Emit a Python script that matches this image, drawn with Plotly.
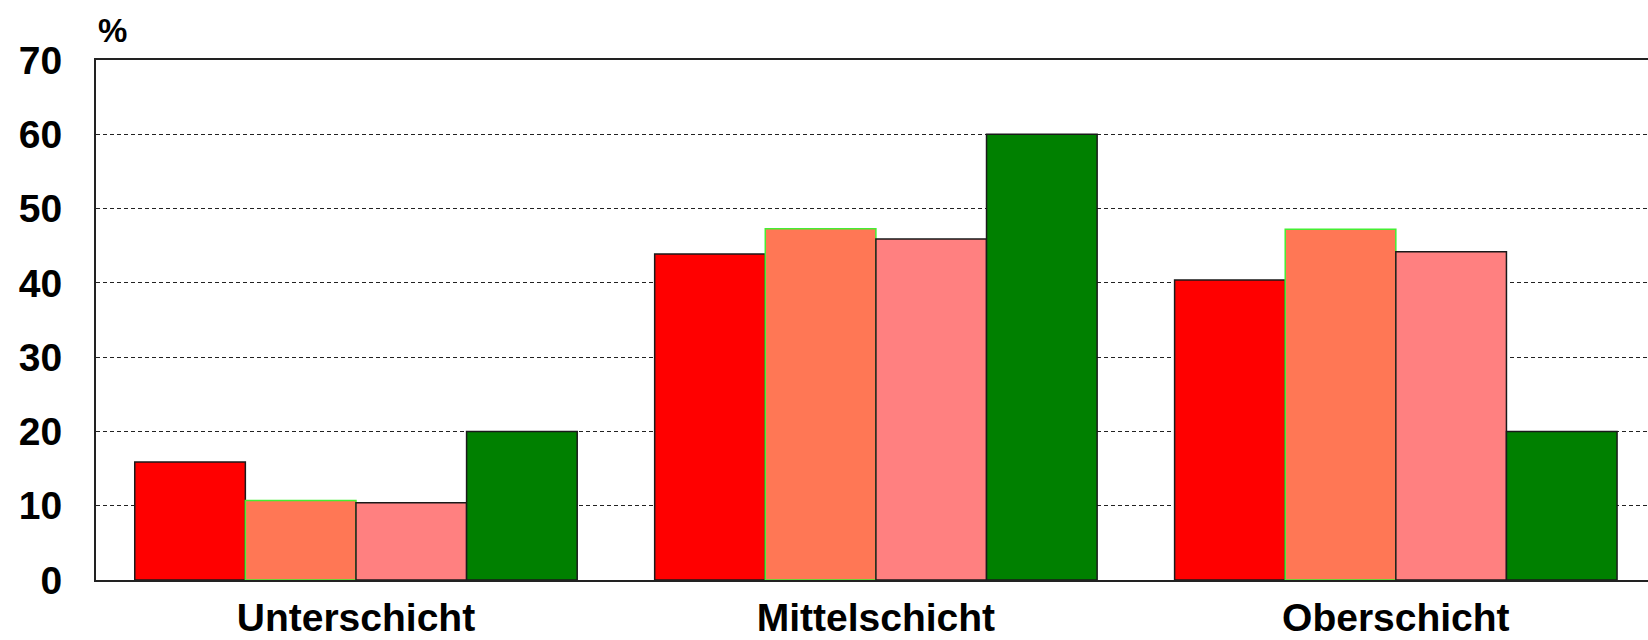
import plotly.graph_objects as go

# Social strata on the x axis, four series per stratum (percent)
categories = ["Unterschicht", "Mittelschicht", "Oberschicht"]
series_names = ["Gruppe 1", "Gruppe 2", "Gruppe 3", "Gruppe 4"]
series_values = [
    [15.9, 43.9, 40.4],
    [10.7, 47.3, 47.2],
    [10.4, 45.9, 44.2],
    [20.0, 60.0, 20.0],
]
y_ticks = [0, 10, 20, 30, 40, 50, 60, 70]

fills = ["#FF0000", "#FF7755", "#FF8080", "#008000"]
outlines = ["#1a1a1a", "#44EE33", "#1a1a1a", "#1a1a1a"]

fig = go.Figure()
for name, vals, fc, lc in zip(series_names, series_values, fills, outlines):
    fig.add_trace(go.Bar(
        x=categories, y=vals, name=name,
        marker=dict(color=fc, line=dict(color=lc, width=1.5)),
        hoverinfo="x+y",
    ))

font_main = "Liberation Sans, Arial, sans-serif"

fig.update_layout(
    width=1648, height=640,
    margin=dict(l=96, r=0, t=60, b=60),
    paper_bgcolor="white", plot_bgcolor="white",
    barmode="group", bargap=0.149, bargroupgap=0,
    showlegend=False,
    font=dict(family=font_main, color="black"),
    xaxis=dict(
        range=[-0.5, 2.485],
        showline=True, linecolor="#222222", linewidth=2, mirror=True,
        showgrid=False, ticks="", automargin=False,
        tickfont=dict(family=font_main, size=39, weight="bold", color="black"),
        ticklabelstandoff=2,
    ),
    yaxis=dict(
        range=[0, 70], tickvals=y_ticks,
        ticktext=[str(v) for v in y_ticks],
        showline=True, linecolor="#222222", linewidth=2,
        showgrid=True, gridcolor="#222222", gridwidth=1,
        griddash="4px,3px", zeroline=False, ticks="", automargin=False,
        tickfont=dict(family=font_main, size=39, weight="bold", color="black"),
        ticklabelstandoff=24,
    ),
    annotations=[dict(
        text="%", xref="paper", yref="paper", x=0, y=1,
        xshift=0, yshift=9, xanchor="left", yanchor="bottom",
        showarrow=False,
        font=dict(family=font_main, size=33, weight="bold", color="black"),
    )],
)

fig.write_html("out.html")
